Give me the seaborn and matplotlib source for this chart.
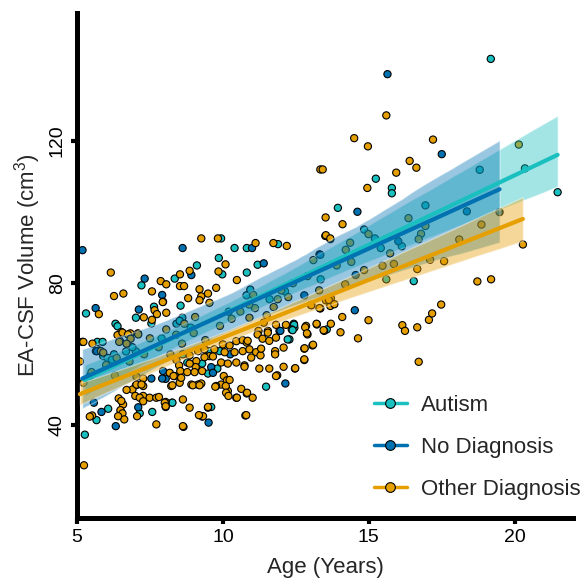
import matplotlib
matplotlib.use('Agg')
import matplotlib.pyplot as plt
import pandas as pd
import seaborn as sns
from matplotlib.lines import Line2D

sns.set_style('ticks')
plt.rcParams['font.family'] = ['Liberation Sans', 'DejaVu Sans']
plt.rcParams['mathtext.fontset'] = 'custom'
plt.rcParams['mathtext.rm'] = 'Liberation Sans'
plt.rcParams['mathtext.default'] = 'regular'

groups = ['Autism', 'No Diagnosis', 'Other Diagnosis']
palette = {'Autism': '#1ABFBF', 'No Diagnosis': '#0072B2', 'Other Diagnosis': '#E69F00'}

# values: age (years), EA-CSF volume (cm3)
autism_age = [5.27, 5.67, 6.07, 6.5, 7.15, 7.58, 8.26, 9.6, 5.31, 7.02, 7.64, 7.55, 6.32, 6.39,
              5.7, 5.88, 5.76, 5.9, 6.05, 6.68, 7.02, 6.27, 7.21, 8.35, 9.11, 9.86, 9.94, 10.4,
              10.82, 9.98, 10.82, 11.19, 11.89, 8.55, 10.81, 8.61, 8.41, 8.52, 12.43, 12.45, 13.56,
              12.44, 12.36, 12.28, 12.39, 12.22, 11.48, 9.52, 9.89, 8.63, 8.78, 9.29, 9.81, 9.49,
              8.27, 13.31, 13.94, 14.84, 15.24, 15.79, 15.79, 16.94, 18.8, 19.18, 20.35, 21.47,
              15.6, 16.54, 15.21, 15.41, 16.13,
              13.35, 10.94, 12.13, 5.45, 6.2, 6.9, 7.9, 8.9, 10.2, 11.6]
autism_vol = [37.4, 41.5, 44.7, 44.0, 43.4, 43.8, 46.4, 45.2, 71.5, 70.3, 73.4, 68.7, 68.6, 67.9,
              63.5, 63.5, 61.1, 59.5, 59.0, 60.8, 60.8, 60.0, 79.4, 81.3, 85.0, 87.1, 92.6, 89.9,
              89.9, 82.5, 83.0, 85.2, 91.0, 73.7, 76.6, 70.3, 68.6, 69.4, 68.6, 67.5, 67.0,
              68.3, 67.0, 64.2, 66.8, 64.2, 50.9, 60.9, 60.9, 60.0, 57.7, 57.4, 56.0, 54.6,
              46.4, 88.1, 101.2, 95.1, 109.4, 106.8, 105.3, 101.9, 111.9, 143.1, 112.3, 105.6,
              81.1, 80.6, 92.6, 89.9, 90.4,
              81.1, 78.2, 77.7, 54.0, 58.5, 62.0, 64.5, 67.5, 72.0, 75.5]

nodx_age = [5.19, 8.62, 11.0, 7.32, 8.92, 11.4, 7.92, 5.64, 7.12, 5.65, 5.18, 5.69, 5.58, 5.84,
            7.1, 6.33, 9.51, 8.04, 12.14, 7.55, 7.92, 7.95, 8.04, 10.25, 9.6, 9.66, 11.94, 11.97,
            14.52, 14.61, 15.64, 17.5, 19.48, 18.36, 16.01, 13.34, 12.79, 14.55]
nodx_vol = [89.3, 89.9, 89.9, 81.3, 82.3, 85.6, 76.7, 73.0, 72.6, 60.9, 63.5, 60.9, 46.4, 43.8,
            45.1, 39.8, 40.8, 53.1, 51.8, 53.2, 53.2, 55.3, 45.2, 60.0, 56.4, 54.8, 66.6, 66.6,
            72.4, 100.1, 138.8, 116.3, 100.0, 100.2, 91.8, 88.0, 76.6, 82.3]

other_age = [6.16, 9.26, 9.83, 11.12, 11.73, 12.19, 10.09, 8.86, 8.53, 7.87, 8.06, 9.85, 10.48,
             8.53, 8.67, 9.77, 9.2, 6.27, 6.59, 7.57, 5.75, 7.29, 7.66, 7.74, 7.57, 7.95, 6.52,
             7.09, 6.83, 8.81, 9.26, 9.49, 9.2, 9.54, 7.94, 8.06, 9.05, 8.68, 8.06, 13.51, 13.68,
             11.04, 11.88, 12.24, 11.74, 13.53, 13.7, 13.02, 13.34, 13.68, 10.91, 11.4, 12.16,
             11.54, 11.22, 12.85, 13.22, 11.82,
             6.39, 6.56, 6.75, 6.47, 6.84, 7.1, 5.22, 5.53, 6.45, 6.7, 6.36, 5.82, 10.0, 10.23,
             10.46, 10.68, 10.82, 10.4, 10.68, 9.71, 10.06, 8.86, 9.15, 9.37, 9.54, 8.41, 8.5,
             9.09, 9.07, 8.86, 9.37, 9.66, 9.94, 10.17, 10.46, 10.74, 8.18, 8.35, 8.54, 8.78,
             9.03, 9.29, 10.03, 10.14, 9.94, 8.92, 9.15, 9.26, 9.77, 10.17, 10.46, 10.63, 10.82,
             8.23, 8.04, 8.63, 8.86, 9.49, 9.29, 8.65, 10.77,
             11.19, 11.54, 11.36, 11.59, 11.82, 12.9, 13.47, 10.85, 10.91, 11.14, 10.97, 11.29,
             11.31, 11.79, 11.79, 12.08, 12.79, 13.07, 12.79, 11.25, 11.59, 12.08, 12.47, 11.86,
             10.83, 11.02, 10.8, 10.74, 11.82,
             5.22, 7.02, 7.27, 6.9, 7.0, 7.27, 7.49, 7.15, 6.43, 6.58, 6.49, 6.56, 5.52, 5.44,
             6.62, 7.72, 7.81, 8.01, 8.04, 7.72, 8.63, 5.24, 7.06, 9.32, 9.18, 9.49, 9.74, 10.1,
             10.23, 10.11, 10.19, 10.48, 8.97, 9.2, 8.27, 8.52, 8.31, 8.57, 7.04, 7.27, 7.04,
             7.21, 6.7, 6.52, 6.41, 7.27,
             13.03, 13.31, 13.63, 13.82, 14.09, 14.99, 12.82, 12.88, 13.21, 13.45, 13.7, 14.03,
             14.63, 12.8, 13.09, 12.79, 12.48, 16.15, 16.24, 16.66, 17.06, 17.17, 17.48, 16.71,
             15.6, 14.5, 14.97, 17.2, 20.14, 16.4, 16.63, 13.34, 13.42, 15.94, 14.95, 13.52,
             14.1, 13.53, 13.68, 20.28, 18.72, 19.19, 17.58, 17.1, 16.66, 15.47, 15.86, 14.84,
             14.19, 18.1, 18.86, 15.73, 14.99,
             # olive-looking points (orange seen through the bands)
             16.36, 16.79, 13.1, 14.21, 14.36, 16.71, 16.94,
             5.5, 6.0, 6.3, 6.8, 7.3, 7.8, 8.2, 8.6, 9.0, 9.4, 9.9, 10.3, 10.6, 11.1, 11.5,
             12.0, 12.4, 12.9, 13.3, 13.9, 14.4, 5.1, 5.9, 7.5, 8.4, 10.9]
other_vol = [83.0, 92.6, 92.6, 91.3, 91.3, 90.5, 85.3, 83.5, 82.5, 80.6, 79.7, 83.3, 80.9,
             79.2, 79.2, 78.7, 78.3, 76.4, 77.1, 77.7, 71.3, 70.4, 72.4, 71.3, 69.7, 74.8, 66.3,
             65.9, 65.9, 75.8, 76.3, 77.1, 75.2, 74.5, 74.7, 71.7, 70.5, 68.6, 67.0, 93.3, 92.4,
             76.7, 75.5, 76.1, 73.3, 75.2, 75.8, 73.9, 72.9, 73.6, 70.3, 68.9, 68.3,
             66.6, 66.6, 68.0, 68.4, 68.3,
             65.4, 66.1, 65.6, 63.8, 64.4, 65.6, 63.5, 63.0, 63.5, 63.0, 59.0, 60.9, 62.8, 62.5,
             63.7, 64.0, 63.3, 60.6, 60.9, 61.4, 60.6, 59.7, 60.9, 61.4, 59.5, 58.4, 56.9,
             58.1, 56.4, 57.4, 59.2, 59.4, 57.7, 57.4, 57.7, 56.9, 54.8, 53.9, 55.3, 55.0,
             55.0, 55.3, 53.9, 52.7, 51.5, 51.5, 51.5, 51.8, 51.1, 49.7, 47.8, 50.3, 49.0,
             51.1, 46.6, 47.3, 45.0, 45.0, 42.5, 39.6, 42.8,
             65.6, 66.1, 64.4, 63.8, 64.7, 65.6, 66.6, 63.8, 61.4, 60.6, 59.1, 59.7,
             61.6, 60.9, 60.0, 61.9, 61.6, 62.5, 58.4, 56.0, 56.0, 56.5, 56.0, 54.1,
             49.2, 47.8, 42.9, 56.5, 53.9,
             52.0, 51.3, 51.1, 50.1, 48.3, 48.3, 47.8, 47.8, 47.6, 45.9, 44.3, 43.4, 42.8, 42.5,
             41.7, 47.8, 48.0, 46.4, 45.4, 40.3, 39.8, 28.8, 42.6, 42.6, 42.9, 45.2, 50.9, 51.1,
             52.8, 49.2, 48.3, 47.8, 51.3, 51.3, 51.3, 52.0, 53.9, 53.4, 53.7, 53.2, 51.5,
             51.5, 50.0, 46.9, 42.6, 46.8,
             73.8, 73.0, 75.3, 74.1, 70.5, 69.6, 67.6, 65.9, 68.6, 66.8, 68.6, 66.2,
             64.5, 61.7, 62.7, 58.6, 56.1, 68.2, 66.6, 67.6, 69.7, 71.5, 74.0, 57.9,
             127.2, 120.8, 118.5, 120.4, 119.0, 114.4, 112.5, 112.0, 112.0, 111.1, 106.8, 98.5,
             96.6, 93.5, 92.6, 90.9, 80.5, 81.1, 86.2, 86.6, 84.0, 84.9, 85.4, 83.7,
             79.7, 92.3, 96.5, 88.4, 93.8,
             98.3, 93.9, 86.5, 89.4, 91.4, 92.4, 96.1,
             55.0, 57.0, 54.0, 58.0, 60.0, 62.0, 60.0, 63.0, 66.0, 64.0, 68.0, 70.0, 72.0, 73.0,
             71.0, 78.0, 80.0, 82.0, 78.0, 85.0, 86.0, 58.0, 60.5, 64.5, 65.5, 74.0]

df = pd.concat([
    pd.DataFrame({'age': autism_age, 'vol': autism_vol, 'group': 'Autism'}),
    pd.DataFrame({'age': nodx_age, 'vol': nodx_vol, 'group': 'No Diagnosis'}),
    pd.DataFrame({'age': other_age, 'vol': other_vol, 'group': 'Other Diagnosis'}),
], ignore_index=True)

fig = plt.figure(figsize=(5.83, 5.78), dpi=100)
ax = fig.add_axes([0.132, 0.104, 0.851, 0.8735])

sns.scatterplot(data=df, x='age', y='vol', hue='group', hue_order=groups, palette=palette,
                s=27, edgecolor='black', linewidth=0.8, legend=False, ax=ax, zorder=2)

# regression lines + 95% CI, drawn over the points
for g in groups:
    sub = df[df['group'] == g]
    sns.regplot(data=sub, x='age', y='vol', scatter=False, ci=95, seed=3, color=palette[g],
                ax=ax, line_kws={'linewidth': 3, 'zorder': 4})
    band = ax.collections[-1]
    band.set_alpha(0.4)
    band.set_zorder(3)

ax.set_xlim(5, 22)
ax.set_ylim(14, 156)
ax.set_xticks([5, 10, 15, 20])
ax.set_yticks([40, 80, 120])
sns.despine(ax=ax)
for side in ['left', 'bottom']:
    ax.spines[side].set_linewidth(3.6)
    ax.spines[side].set_color('black')
ax.tick_params(width=3, length=4, labelsize=14, direction='out', colors='black', pad=4)
plt.setp(ax.get_yticklabels(), rotation=90, va='center')

ax.set_xlabel('Age (Years)', fontsize=16, labelpad=8)
ax.set_ylabel('EA-CSF Volume (cm$^3$)', fontsize=16, labelpad=4)

handles = [Line2D([0], [0], color=palette[g], lw=2.5, marker='o', markersize=7,
                  markerfacecolor=palette[g], markeredgecolor='black', markeredgewidth=0.8)
           for g in groups]
ax.legend(handles, groups, loc='lower left', bbox_to_anchor=(0.598, 0.035), frameon=False,
          fontsize=16, handlelength=1.5, handletextpad=0.65, labelspacing=0.95,
          borderaxespad=0, borderpad=0)

fig.savefig('out.png', dpi=100)
